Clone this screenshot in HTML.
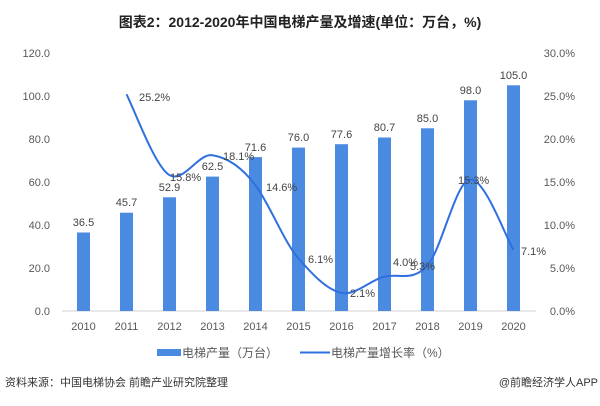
<!DOCTYPE html>
<html><head><meta charset="utf-8"><style>
body{margin:0;background:#fff;}
svg text{font-family:"Liberation Sans","Noto Sans CJK SC",sans-serif;}
</style></head><body>
<svg width="600" height="401" viewBox="0 0 600 401" xmlns="http://www.w3.org/2000/svg">
<text x="300" y="27" text-anchor="middle" font-size="14" font-weight="bold" fill="#222">图表2：2012-2020年中国电梯产量及增速(单位：万台，%)</text>
<g font-size="11" fill="#595959">
<text x="50" y="57" text-anchor="end">120.0</text>
<text x="50" y="100" text-anchor="end">100.0</text>
<text x="50" y="143" text-anchor="end">80.0</text>
<text x="50" y="186" text-anchor="end">60.0</text>
<text x="50" y="229" text-anchor="end">40.0</text>
<text x="50" y="272" text-anchor="end">20.0</text>
<text x="50" y="315" text-anchor="end">0.0</text>
<text x="575" y="57" text-anchor="end">30.0%</text>
<text x="575" y="100" text-anchor="end">25.0%</text>
<text x="575" y="143" text-anchor="end">20.0%</text>
<text x="575" y="186" text-anchor="end">15.0%</text>
<text x="575" y="229" text-anchor="end">10.0%</text>
<text x="575" y="272" text-anchor="end">5.0%</text>
<text x="575" y="315" text-anchor="end">0.0%</text>
</g>
<line x1="62" y1="311" x2="536" y2="311" stroke="#d0d0d0" stroke-width="1"/>
<g fill="#4a8ae0">
<rect x="77" y="232.5" width="13" height="78.5"/>
<rect x="120" y="212.7" width="13" height="98.3"/>
<rect x="163" y="197.3" width="13" height="113.7"/>
<rect x="206" y="176.6" width="13" height="134.4"/>
<rect x="249" y="157.1" width="13" height="153.9"/>
<rect x="292" y="147.6" width="13" height="163.4"/>
<rect x="335" y="144.2" width="13" height="166.8"/>
<rect x="378" y="137.5" width="13" height="173.5"/>
<rect x="421" y="128.3" width="13" height="182.7"/>
<rect x="464" y="100.3" width="13" height="210.7"/>
<rect x="507" y="85.3" width="13" height="225.7"/>
</g>
<g font-size="11" fill="#444" text-anchor="middle">
<text x="83.5" y="226">36.5</text>
<text x="126.5" y="206">45.7</text>
<text x="169.5" y="191">52.9</text>
<text x="212.5" y="170">62.5</text>
<text x="255.5" y="151">71.6</text>
<text x="298.5" y="141">76.0</text>
<text x="341.5" y="138">77.6</text>
<text x="384.5" y="131">80.7</text>
<text x="427.5" y="122">85.0</text>
<text x="470.5" y="94">98.0</text>
<text x="513.5" y="79">105.0</text>
</g>
<path d="M126.5,94.3 C133.7,107.8 155,167 169.5,175.1 C184,183.2 198,153 212.5,155.3 C227,157.6 241,166 255.5,185.4 C270,204.8 284,242 298.5,258.5 C313,275 327,290 341.5,292.9 C356,295.8 370,280 384.5,276.6 C399,273.2 413,282 427.5,265.4 C442,248.8 456,180 470.5,179.4 C485,178.8 506,238 513.5,249.9" fill="none" stroke="#2f6fe0" stroke-width="2"/>
<g font-size="11" fill="#444">
<text x="139" y="101">25.2%</text>
<text x="170" y="181">15.8%</text>
<text x="223" y="160">18.1%</text>
<text x="266" y="191">14.6%</text>
<text x="308" y="263">6.1%</text>
<text x="350" y="297">2.1%</text>
<text x="393" y="266">4.0%</text>
<text x="410" y="270">5.3%</text>
<text x="458" y="184">15.3%</text>
<text x="521" y="255">7.1%</text>
</g>
<g font-size="11" fill="#595959" text-anchor="middle">
<text x="83.5" y="330">2010</text><text x="126.5" y="330">2011</text><text x="169.5" y="330">2012</text>
<text x="212.5" y="330">2013</text><text x="255.5" y="330">2014</text><text x="298.5" y="330">2015</text>
<text x="341.5" y="330">2016</text><text x="384.5" y="330">2017</text><text x="427.5" y="330">2018</text>
<text x="470.5" y="330">2019</text><text x="513.5" y="330">2020</text>
</g>
<rect x="157" y="349" width="24" height="7" fill="#4a8ae0"/>
<text x="182" y="357" font-size="12" fill="#595959">电梯产量（万台）</text>
<line x1="300" y1="352.5" x2="330" y2="352.5" stroke="#2f6fe0" stroke-width="2"/>
<text x="331" y="357" font-size="12" fill="#595959">电梯产量增长率（%）</text>
<text x="5" y="386" font-size="11" fill="#333">资料来源：中国电梯协会 前瞻产业研究院整理</text>
<text x="598" y="386" font-size="11" fill="#333" text-anchor="end">@前瞻经济学人APP</text>
</svg>
</body></html>
